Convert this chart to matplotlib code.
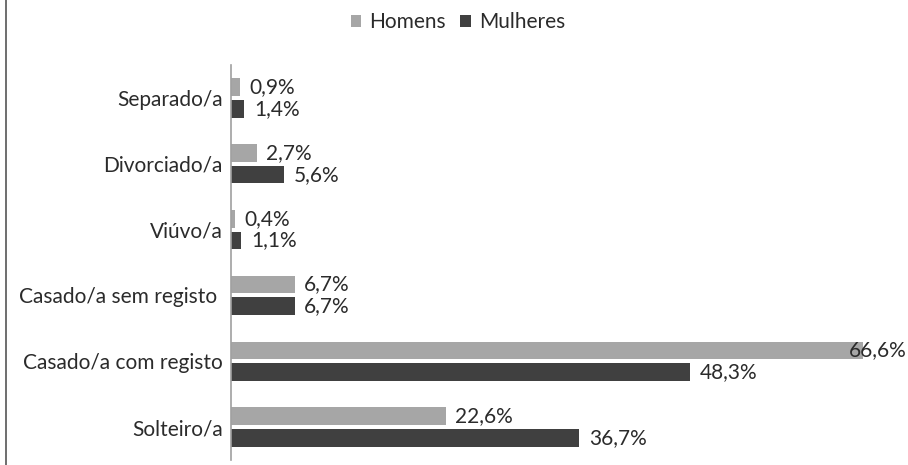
import matplotlib.pyplot as plt
from matplotlib.lines import Line2D

# categories listed top to bottom as in the chart
categories = ['Separado/a', 'Divorciado/a', 'Viúvo/a', 'Casado/a sem registo ',
              'Casado/a com registo', 'Solteiro/a']
homens = [0.9, 2.7, 0.4, 6.7, 66.6, 22.6]
mulheres = [1.4, 5.6, 1.1, 6.7, 48.3, 36.7]
series_names = ['Homens', 'Mulheres']

plt.rcParams['font.family'] = ['Lato', 'DejaVu Sans']
text_color = '#2b2b2b'
light = '#a6a6a6'
dark = '#404040'
fs = 15

fig = plt.figure(figsize=(9.08, 4.65), dpi=100)
ax = fig.add_axes([231 / 908, 1 - 460 / 465, 1 - 231 / 908, (460 - 65) / 465])

y = list(range(len(categories)))
h = 0.27
off = 0.165
b1 = ax.barh([v - off for v in y], homens, height=h, color=light, label=series_names[0])
b2 = ax.barh([v + off for v in y], mulheres, height=h, color=dark, label=series_names[1])

ax.set_xlim(0, 71.3)
ax.set_ylim(len(categories) - 0.5, -0.5)

def fmt(v):
    return f'{v:.1f}'.replace('.', ',') + '%'

for bars, vals in ((b1, homens), (b2, mulheres)):
    for rect, v in zip(bars, vals):
        yc = rect.get_y() + rect.get_height() / 2
        if v > 60:
            # does not fit past the bar, sits at the right edge
            ax.annotate(fmt(v), (1.0, yc), xycoords=('axes fraction', 'data'),
                        xytext=(-1, 0), textcoords='offset points',
                        ha='right', va='center', fontsize=fs, color=text_color)
        else:
            ax.annotate(fmt(v), (v, yc), xytext=(7, 0), textcoords='offset points',
                        ha='left', va='center', fontsize=fs, color=text_color)

ax.set_yticks(y)
ax.set_yticklabels(categories, fontsize=fs, color=text_color)
ax.tick_params(axis='y', length=0, pad=6)
ax.set_xticks([])
for side in ('top', 'right', 'bottom'):
    ax.spines[side].set_visible(False)
ax.spines['left'].set_color('#a0a0a0')
ax.spines['left'].set_linewidth(1.2)

fig.legend(handles=[b1, b2], labels=series_names, loc='center',
           bbox_to_anchor=(458 / 908, 1 - 22 / 465), ncol=2, frameon=False,
           fontsize=fs, handlelength=0.5, handleheight=0.5, handletextpad=0.4,
           columnspacing=0.7, labelcolor=text_color)

# frame line on the left of the picture
fig.add_artist(Line2D([6 / 908, 6 / 908], [0, 1], transform=fig.transFigure,
                      color='#555555', linewidth=1.2))

fig.savefig('out.png', dpi=100)
